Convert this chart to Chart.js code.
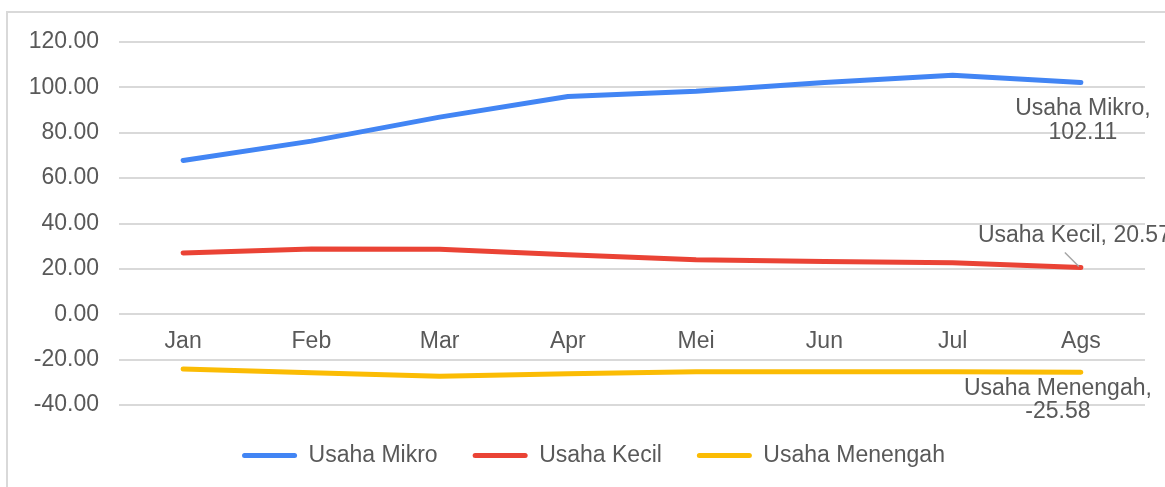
<!DOCTYPE html>
<html>
<head>
<meta charset="utf-8">
<script src="https://cdn.jsdelivr.net/npm/chart.js@4.4.1/dist/chart.umd.min.js"></script>
<style>
  html, body { margin: 0; padding: 0; background: #ffffff; }
  #wrap { position: relative; width: 1165px; height: 487px; overflow: hidden; }
  #frame { position: absolute; left: 6px; top: 11px; width: 1200px; height: 500px;
           border-left: 2px solid #d9d9d9; border-top: 2px solid #d9d9d9; }
  canvas { position: absolute; left: 0; top: 0; }
</style>
</head>
<body>
<div id="wrap">
  <div id="frame"></div>
  <canvas id="c" width="1165" height="487"></canvas>
</div>
<script>
const categories = ["Jan", "Feb", "Mar", "Apr", "Mei", "Jun", "Jul", "Ags"];
const seriesNames = ["Usaha Mikro", "Usaha Kecil", "Usaha Menengah"];
const usahaMikro = [67.8, 76.3, 86.9, 96.0, 98.3, 102.2, 105.3, 102.11];
const usahaKecil = [27.0, 28.8, 28.6, 26.2, 24.0, 23.3, 22.7, 20.57];
const usahaMenengah = [-24.1, -25.8, -27.3, -26.2, -25.3, -25.3, -25.3, -25.58];
const yTicks = [-40, -20, 0, 20, 40, 60, 80, 100, 120];
const colors = ["#4285F4", "#EA4335", "#FBBC04"];

const FONT = "'Liberation Sans', Arial, sans-serif";
const TEXT = "#595959";

const endLabels = {
  id: 'endLabels',
  afterDatasetsDraw(chart) {
    const ctx = chart.ctx;
    ctx.save();
    ctx.font = "23px " + FONT;
    ctx.fillStyle = TEXT;
    ctx.textBaseline = 'middle';
    const pts = chart.data.datasets.map((ds, i) => {
      const meta = chart.getDatasetMeta(i);
      return meta.data[meta.data.length - 1];
    });
    const vals = [usahaMikro, usahaKecil, usahaMenengah].map(a => a[a.length - 1].toFixed(2));
    // Usaha Mikro
    let p = pts[0];
    ctx.textAlign = 'center';
    ctx.fillText(seriesNames[0] + ",", p.x + 2, p.y + 26);
    ctx.fillText(vals[0], p.x + 2, p.y + 50);
    // Usaha Kecil
    p = pts[1];
    ctx.textAlign = 'left';
    ctx.fillText(seriesNames[1] + ", " + vals[1], p.x - 103, p.y - 32);
    ctx.strokeStyle = "#a6a6a6";
    ctx.lineWidth = 1.5;
    ctx.beginPath();
    ctx.moveTo(p.x - 16, p.y - 15);
    ctx.lineTo(p.x - 2, p.y - 1);
    ctx.stroke();
    // Usaha Menengah
    p = pts[2];
    ctx.textAlign = 'center';
    ctx.fillText(seriesNames[2] + ",", p.x - 23, p.y + 16);
    ctx.fillText(vals[2], p.x - 23, p.y + 39);
    ctx.restore();
  }
};

// empty layout box that keeps room below the plot for the category labels,
// and a small horizontal shift of the legend row
const spacer = {
  id: 'spacer',
  beforeInit(chart) {
    const box = {
      position: 'bottom', weight: 1, fullSize: false, options: {},
      left: 0, top: 0, right: 0, bottom: 0, width: 0, height: 0,
      isHorizontal() { return true; },
      update(maxWidth) { this.width = maxWidth; this.height = 4; },
      getPadding() { return { left: 0, right: 0, top: 0, bottom: 0 }; },
      draw() {}
    };
    Chart.layouts.addBox(chart, box);
  },
  afterInit(chart) {
    const lg = chart.legend;
    if (!lg) return;
    const orig = lg.draw.bind(lg);
    lg.draw = function () {
      const ctx = chart.ctx;
      ctx.save();
      ctx.translate(21, 0);
      orig();
      ctx.restore();
    };
  }
};

const seriesData = [usahaMikro, usahaKecil, usahaMenengah];

new Chart(document.getElementById('c'), {
  type: 'line',
  data: {
    labels: categories,
    datasets: seriesNames.map((n, i) => ({
      label: n,
      data: seriesData[i],
      borderColor: colors[i],
      backgroundColor: colors[i],
      borderWidth: 5,
      borderCapStyle: 'round',
      borderJoinStyle: 'round',
      pointRadius: 0,
      pointHoverRadius: 0,
      tension: 0,
      fill: false
    }))
  },
  options: {
    responsive: false,
    animation: false,
    devicePixelRatio: 1,
    layout: { padding: { top: 42, left: 0, right: 20, bottom: 10 } },
    scales: {
      x: {
        type: 'category',
        offset: true,
        position: { y: 0 },
        grid: { display: false, drawTicks: false },
        border: { display: false },
        ticks: { color: TEXT, font: { family: FONT, size: 23 }, padding: 14, maxRotation: 0, autoSkip: false }
      },
      y: {
        min: -40, max: 120,
        afterBuildTicks(s) { s.ticks = yTicks.map(v => ({ value: v })); },
        grid: { color: "#d9d9d9", lineWidth: 2, drawTicks: false },
        border: { display: false },
        ticks: { color: TEXT, font: { family: FONT, size: 23 }, padding: 20,
                 callback: v => Number(v).toFixed(2) },
        afterFit(s) { s.width = 119; }
      }
    },
    plugins: {
      legend: {
        position: 'bottom',
        labels: {
          color: TEXT,
          font: { family: FONT, size: 23 },
          boxWidth: 55,
          boxHeight: 5,
          padding: 35,
          useBorderRadius: true,
          borderRadius: 2.5,
          generateLabels(chart) {
            return chart.data.datasets.map((ds, i) => ({
              text: ds.label,
              fillStyle: ds.borderColor,
              strokeStyle: ds.borderColor,
              lineWidth: 0,
              borderRadius: 2.5,
              fontColor: TEXT,
              hidden: false,
              datasetIndex: i
            }));
          }
        }
      },
      tooltip: { enabled: false }
    }
  },
  plugins: [spacer, endLabels]
});
</script>
</body>
</html>
